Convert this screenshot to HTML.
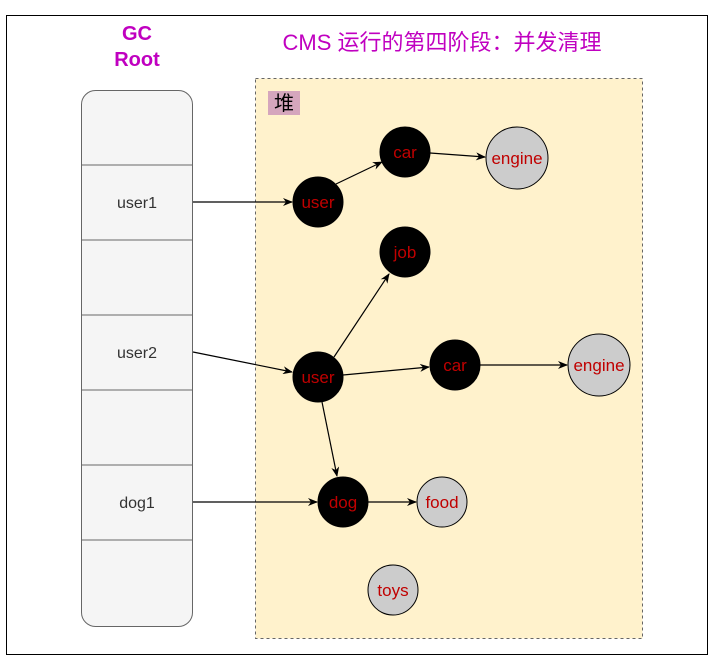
<!DOCTYPE html>
<html><head><meta charset="utf-8"><style>body{margin:0;background:#fff}</style></head><body>
<svg width="714" height="667" xmlns="http://www.w3.org/2000/svg" font-family="Liberation Sans, Noto Sans CJK SC, sans-serif">
<defs><marker id="a" markerWidth="10" markerHeight="8" refX="9" refY="4" orient="auto" markerUnits="userSpaceOnUse"><path d="M0,0 L10,4 L0,8 L3,4z" fill="#000"/></marker></defs>
<rect x="6.5" y="15.5" width="701" height="639" fill="#fff" stroke="#000"/>
<text x="137" y="40" font-size="20" font-weight="bold" fill="#c000c0" text-anchor="middle">GC</text>
<text x="137" y="66" font-size="20" font-weight="bold" fill="#c000c0" text-anchor="middle">Root</text>
<text x="442" y="50" font-size="22" fill="#c000c0" text-anchor="middle">CMS 运行的第四阶段：并发清理</text>
<rect x="255.5" y="78.5" width="387" height="560" fill="#fff2cc" stroke="#666" stroke-dasharray="3,3"/>
<rect x="268" y="91" width="32" height="24" fill="#d5a6bd"/>
<text x="284" y="110" font-size="20" text-anchor="middle" fill="#000">堆</text>
<rect x="81.5" y="90.5" width="111" height="536" rx="14" fill="#f5f5f5" stroke="#666"/>
<g stroke="#666"><line x1="81" y1="165" x2="193" y2="165"/><line x1="81" y1="240" x2="193" y2="240"/><line x1="81" y1="315" x2="193" y2="315"/><line x1="81" y1="390" x2="193" y2="390"/><line x1="81" y1="465" x2="193" y2="465"/><line x1="81" y1="540" x2="193" y2="540"/></g>
<g font-size="16" fill="#333" text-anchor="middle"><text x="137" y="208">user1</text><text x="137" y="358">user2</text><text x="137" y="508">dog1</text></g>
<g stroke="#000" stroke-width="1.2" marker-end="url(#a)">
<line x1="193" y1="202" x2="292" y2="202"/>
<line x1="336" y1="184" x2="382" y2="162"/>
<line x1="430" y1="153" x2="485" y2="157"/>
<line x1="193" y1="352" x2="292" y2="372"/>
<line x1="334" y1="357" x2="389" y2="274"/>
<line x1="343" y1="375" x2="429" y2="367"/>
<line x1="480" y1="365" x2="567" y2="365"/>
<line x1="322" y1="402" x2="337" y2="476"/>
<line x1="193" y1="502" x2="317" y2="502"/>
<line x1="368" y1="502" x2="416" y2="502"/>
</g>
<g stroke="#000"><circle cx="318" cy="202" r="25"/><circle cx="405" cy="152" r="25"/><circle cx="405" cy="252" r="25"/><circle cx="318" cy="377" r="25"/><circle cx="455" cy="365" r="25"/><circle cx="343" cy="502" r="25"/>
<g fill="#ccc"><circle cx="517" cy="158" r="31"/><circle cx="599" cy="365" r="31"/><circle cx="442" cy="502" r="25"/><circle cx="393" cy="590" r="25"/></g></g>
<g font-size="17" fill="#c00000" text-anchor="middle">
<text x="318" y="208">user</text><text x="405" y="158">car</text><text x="517" y="164">engine</text><text x="405" y="258">job</text><text x="318" y="383">user</text><text x="455" y="371">car</text><text x="599" y="371">engine</text><text x="343" y="508">dog</text><text x="442" y="508">food</text><text x="393" y="596">toys</text></g>
</svg>
</body></html>
